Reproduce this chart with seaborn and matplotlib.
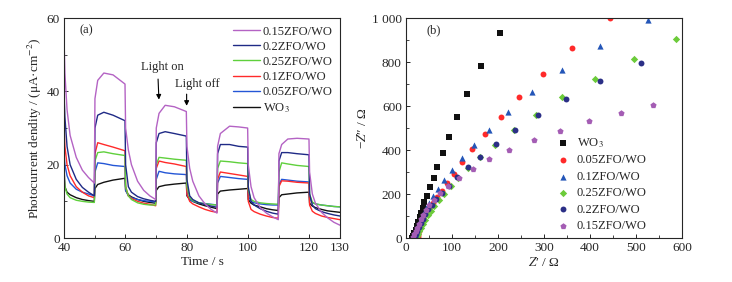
import numpy as np
import pandas as pd
import seaborn as sns
import matplotlib.pyplot as plt
from matplotlib.ticker import MultipleLocator, FuncFormatter

# ---- panel (a): photocurrent vs time ----
time_s = [40, 40.3, 41, 42, 44, 46, 48, 49.9,
          50.1, 51, 53, 56, 59.9,
          60.1, 61, 62, 64, 66, 68, 69.9,
          70.1, 71, 73, 76, 79.9,
          80.1, 81, 82, 84, 86, 88, 89.9,
          90.1, 91, 94, 97, 99.9,
          100.1, 101, 102, 104, 106, 108, 109.9,
          110.1, 111, 113, 116, 119.9,
          120.1, 121, 122, 124, 126, 128, 130]

j_015 = [55, 45, 35, 28, 22, 18.5, 16.5, 15,
         38, 43, 45, 44.5, 42,
         30, 24, 20, 15.5, 13, 11.5, 10.5,
         30, 34, 36.2, 35.8, 34.5,
         25, 19, 15.5, 11.5, 9.3, 7.8, 6.8,
         25, 28.5, 30.5, 30.3, 30,
         20, 14, 11, 8.3, 6.8, 5.8, 5,
         23, 25.5, 27, 27.2, 27,
         18, 12, 9.5, 7, 5.5, 4.3, 3.5]
j_02 = [40, 33, 25, 20, 16, 13.8, 12.5, 11.5,
        30, 33.5, 34.3, 33.5, 32,
        20, 14, 12.5, 11.3, 10.7, 10.3, 10,
        26, 28.5, 29, 28.5, 27.8,
        16, 11.5, 10.5, 9.6, 9.1, 8.7, 8.4,
        23, 25.5, 25.5, 25, 24.8,
        14, 10, 9, 8, 7.3, 6.8, 6.5,
        21, 23.3, 23.3, 23, 22.7,
        12, 9, 8, 7.2, 6.7, 6.3, 6]
j_025 = [17, 14, 12, 11, 10.3, 10, 9.8, 9.7,
         21, 23.3, 23.5, 23, 22.5,
         14, 11.5, 10.5, 9.6, 9.2, 9, 9,
         20, 22, 21.8, 21.5, 21.2,
         14, 11, 10.2, 9.6, 9.3, 9.1, 9,
         19, 21, 20.8, 20.5, 20.3,
         13, 10.5, 10, 9.6, 9.4, 9.3, 9.2,
         18, 20.5, 20.2, 19.8, 19.5,
         12, 9.8, 9.3, 9, 8.8, 8.6, 8.5]
j_01 = [31, 25, 20, 17, 14, 12.5, 11.5, 11,
        23, 26, 25.5, 24.8, 23.8,
        14, 11.5, 10.8, 10, 9.5, 9.2, 8.8,
        19, 21, 20.6, 20.2, 19.5,
        12, 10, 9.3, 8.5, 7.8, 7.3, 7,
        16, 18, 17.6, 17.2, 16.8,
        10, 7.8, 7.2, 6.5, 6, 5.6, 5.4,
        14, 15.6, 15.5, 15.2, 15,
        9, 7.3, 6.7, 6, 5.6, 5.3, 5]
j_005 = [23, 20, 17, 15, 13.3, 12.5, 12, 11.5,
         18, 20.5, 20.3, 19.8, 19.5,
         13, 11.5, 11, 10.5, 10.2, 10, 9.8,
         16, 18.2, 17.8, 17.5, 17.3,
         12, 10.5, 10, 9.6, 9.4, 9.2, 9,
         15, 16.8, 16.5, 16.2, 16,
         11.5, 10, 9.6, 9.3, 9.1, 9, 9,
         14.5, 16, 15.8, 15.5, 15.3,
         11, 9.6, 9.3, 9, 8.8, 8.6, 8.5]
j_wo3 = [20, 14, 12.5, 11.8, 11, 10.5, 10.2, 10,
         13.5, 14.6, 15.2, 15.8, 16.3,
         13, 11.8, 11.2, 10.5, 10, 9.7, 9.5,
         13, 14, 14.4, 14.7, 15,
         11.5, 10.5, 10, 9.3, 8.8, 8.4, 8,
         12, 12.8, 13.1, 13.3, 13.5,
         10.5, 9.5, 9, 8.5, 8, 7.7, 7.5,
         11, 11.8, 12, 12.3, 12.5,
         9.5, 8.7, 8.3, 7.8, 7.4, 7.2, 7]

# ---- panel (b): Nyquist plot ----
zre_wo3 = [205, 163, 133, 112, 93, 80, 68, 60, 52, 46, 40, 37, 33, 30, 27, 24, 21, 18, 16, 14]
zim_wo3 = [930, 780, 655, 550, 460, 388, 325, 275, 230, 192, 162, 137, 115, 95, 75, 55, 38, 22, 10, 2]
zre_005 = [443, 362, 297, 246, 206, 172, 144, 122, 105, 90, 78, 67, 58, 50, 44, 38, 34, 31, 28, 27, 26]
zim_005 = [998, 862, 745, 641, 550, 473, 403, 345, 292, 250, 215, 185, 160, 135, 112, 90, 70, 50, 32, 15, 3]
zre_01 = [527, 422, 340, 274, 221, 180, 147, 121, 100, 83, 70, 58, 50, 43, 37, 33, 29, 26, 24, 22, 21]
zim_01 = [990, 872, 762, 662, 572, 493, 423, 362, 310, 263, 225, 190, 160, 135, 110, 88, 66, 45, 28, 12, 2]
zre_025 = [588, 495, 411, 340, 282, 234, 194, 160, 134, 114, 97, 83, 71, 62, 54, 47, 42, 37, 33, 29, 26, 24, 22]
zim_025 = [905, 812, 724, 640, 560, 489, 425, 370, 318, 274, 235, 202, 172, 147, 125, 103, 82, 62, 45, 30, 17, 7, 0]
zre_02 = [512, 422, 348, 288, 236, 195, 162, 135, 112, 93, 78, 66, 56, 48, 42, 37, 32, 28, 24, 21, 19]
zim_02 = [795, 712, 634, 560, 490, 427, 370, 322, 276, 238, 205, 178, 152, 130, 108, 88, 68, 50, 33, 18, 6]
zre_015 = [537, 467, 399, 335, 278, 225, 181, 145, 115, 92, 74, 61, 51, 43, 37, 32, 28, 24, 21, 18, 16]
zim_015 = [603, 567, 530, 488, 447, 402, 358, 315, 273, 237, 205, 175, 150, 127, 105, 85, 65, 47, 30, 16, 5]

sns.set_style('ticks')
plt.rcParams['font.family'] = ['Liberation Serif', 'DejaVu Serif']
plt.rcParams['mathtext.fontset'] = 'stix'
plt.rcParams['xtick.direction'] = 'in'
plt.rcParams['ytick.direction'] = 'in'
plt.rcParams['axes.linewidth'] = 0.8

fig = plt.figure(figsize=(7.32, 2.82), dpi=100)
ax1 = fig.add_axes([0.0874, 0.156, 0.377, 0.780])
ax2 = fig.add_axes([0.5546, 0.156, 0.377, 0.780])

# (a)
lab_a = ['0.15ZFO/WO', '0.2ZFO/WO', '0.25ZFO/WO', '0.1ZFO/WO', '0.05ZFO/WO', 'WO$_3$']
vals_a = [j_015, j_02, j_025, j_01, j_005, j_wo3]
cols_a = ['#b463c4', '#1f2a86', '#5fd03c', '#ff2a2a', '#2456d6', '#111111']
df_a = pd.concat([pd.DataFrame({'t': time_s, 'j': v, 'sample': l}) for l, v in zip(lab_a, vals_a)])
sns.lineplot(data=df_a, x='t', y='j', hue='sample', hue_order=lab_a[::-1],
             palette=dict(zip(lab_a, cols_a)), lw=1.0, ax=ax1, legend=False,
             estimator=None, sort=False)
for l, c in zip(lab_a, cols_a):
    ax1.plot([], [], color=c, lw=1.0, label=l)
ax1.legend(loc='upper right', frameon=False, fontsize=9, handlelength=2.2,
           handletextpad=0.2, labelspacing=0.25, borderaxespad=0.2)
ax1.set_xlim(40, 130)
ax1.set_ylim(0, 60)
ax1.set_xticks([40, 60, 80, 100, 120, 130])
ax1.xaxis.set_minor_locator(MultipleLocator(10))
ax1.set_yticks([0, 20, 40, 60])
ax1.yaxis.set_minor_locator(MultipleLocator(10))
ax1.set_xlabel('Time / s', fontsize=9.5, labelpad=1)
ax1.set_ylabel('Photocurrent dendity / (μA·cm$^{-2}$)', fontsize=9.5, labelpad=2)
ax1.text(0.055, 0.93, '(a)', transform=ax1.transAxes, fontsize=9)
ax1.annotate('Light on', xy=(71, 37), xytext=(72, 45), ha='center', va='bottom', fontsize=9,
             arrowprops=dict(arrowstyle='-|>', color='black', lw=0.8, mutation_scale=7,
                             relpos=(0.4, 0.0)))
ax1.annotate('', xy=(80, 35.3), xytext=(80, 40),
             arrowprops=dict(arrowstyle='-|>', color='black', lw=0.8, mutation_scale=7))
ax1.text(83.5, 40.3, 'Light off', ha='center', va='bottom', fontsize=9)

# (b)
lab_b = ['WO$_3$', '0.05ZFO/WO', '0.1ZFO/WO', '0.25ZFO/WO', '0.2ZFO/WO', '0.15ZFO/WO']
xs_b = [zre_wo3, zre_005, zre_01, zre_025, zre_02, zre_015]
ys_b = [zim_wo3, zim_005, zim_01, zim_025, zim_02, zim_015]
cols_b = ['#111111', '#ff2a2a', '#2456b8', '#6ccb3a', '#2b2f86', '#a45db4']
mk_b = ['s', 'o', '^', 'D', 'o', 'p']
sz_b = [14, 18, 20, 14, 18, 22]
for l, x, y, c, m, s in zip(lab_b, xs_b, ys_b, cols_b, mk_b, sz_b):
    sns.scatterplot(x=x, y=y, color=c, marker=m, s=s, linewidth=0, label=l, ax=ax2)
ax2.legend(loc='lower right', frameon=False, fontsize=9, handletextpad=0.1,
           labelspacing=0.35, borderaxespad=0.0, bbox_to_anchor=(0.89, 0.005))
ax2.set_xlim(0, 600)
ax2.set_ylim(0, 1000)
ax2.xaxis.set_major_locator(MultipleLocator(100))
ax2.xaxis.set_minor_locator(MultipleLocator(50))
ax2.yaxis.set_major_locator(MultipleLocator(200))
ax2.yaxis.set_minor_locator(MultipleLocator(100))
ax2.yaxis.set_major_formatter(FuncFormatter(lambda v, p: '1 000' if v == 1000 else f'{v:.0f}'))
ax2.set_xlabel('$Z$′ / Ω', fontsize=9.5, labelpad=1)
ax2.set_ylabel('−$Z$″ / Ω', fontsize=9.5, labelpad=2)
ax2.text(0.075, 0.93, '(b)', transform=ax2.transAxes, fontsize=9)

for ax in (ax1, ax2):
    ax.tick_params(labelsize=9.5, length=3, width=0.7, pad=3)
    ax.tick_params(which='minor', length=2, width=0.6)

fig.savefig('out.png', dpi=100)
